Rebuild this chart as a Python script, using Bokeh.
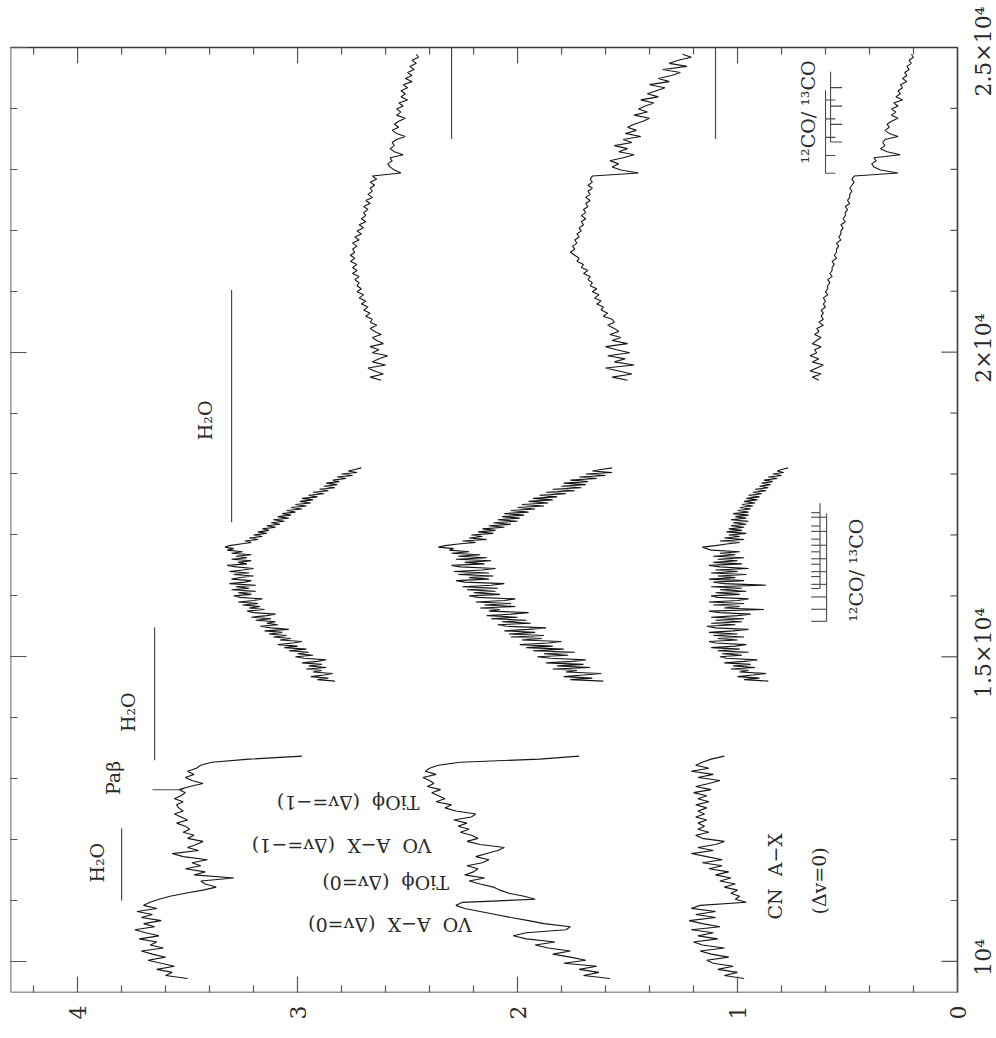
from math import pi

from bokeh.plotting import figure
from bokeh.models import Range1d, FixedTicker, Label, ColumnDataSource
from bokeh.core.properties import value
from bokeh.embed import file_html
from bokeh.resources import INLINE

# ---------------------------------------------------------------------------
# Spectra: three objects, each observed in three windows (J, H, K).
# Wavelengths in Angstrom: window start and sampling step.
# ---------------------------------------------------------------------------
J_START, J_STEP = 9720, 50
H_START, H_STEP = 14600, 25
K_START, K_STEP = 19540, 50

OBJ1_J = [3.50, 3.60, 3.57, 3.64, 3.56, 3.62, 3.68, 3.60, 3.66, 3.71,
          3.61, 3.67, 3.64, 3.72, 3.63, 3.69, 3.74, 3.65, 3.70, 3.62,
          3.71, 3.66, 3.73, 3.64, 3.70, 3.67, 3.63, 3.58, 3.51, 3.43,
          3.37, 3.42, 3.44, 3.29, 3.47, 3.42, 3.51, 3.44, 3.48, 3.41,
          3.52, 3.57, 3.45, 3.50, 3.46, 3.43, 3.50, 3.47, 3.52, 3.49,
          3.51, 3.55, 3.50, 3.53, 3.56, 3.52, 3.54, 3.55, 3.52, 3.56,
          3.53, 3.51, 3.54, 3.49, 3.43, 3.48, 3.51, 3.47, 3.50, 3.46,
          3.44, 3.39, 3.22, 2.98]
OBJ1_H = [2.83, 2.91, 2.86, 2.94, 2.88, 2.84, 2.93, 2.89, 2.96, 2.87,
          2.95, 2.89, 2.98, 2.91, 2.87, 2.97, 3.01, 2.93, 3.00, 2.95,
          3.04, 2.96, 3.06, 3.00, 3.09, 3.02, 2.98, 3.08, 3.03, 3.11,
          3.05, 3.13, 3.07, 3.15, 3.04, 3.12, 3.17, 3.09, 3.14, 3.10,
          3.19, 3.12, 3.21, 3.14, 3.10, 3.20, 3.23, 3.15, 3.22, 3.17,
          3.25, 3.18, 3.27, 3.20, 3.16, 3.26, 3.29, 3.21, 3.27, 3.19,
          3.30, 3.22, 3.28, 3.19, 3.31, 3.24, 3.21, 3.30, 3.26, 3.20,
          3.29, 3.22, 3.31, 3.25, 3.20, 3.28, 3.32, 3.23, 3.27, 3.21,
          3.30, 3.23, 3.28, 3.21, 3.30, 3.25, 3.32, 3.29, 3.33, 3.31,
          3.26, 3.21, 3.24, 3.18, 3.22, 3.16, 3.20, 3.14, 3.18, 3.13,
          3.16, 3.10, 3.14, 3.08, 3.12, 3.06, 3.11, 3.04, 3.09, 3.03,
          3.07, 3.01, 3.05, 2.98, 3.03, 2.96, 3.01, 2.94, 2.99, 2.93,
          2.98, 2.91, 2.95, 2.88, 2.93, 2.86, 2.90, 2.83, 2.88, 2.82,
          2.87, 2.81, 2.84, 2.78, 2.82, 2.75, 2.80, 2.73, 2.77, 2.74,
          2.71]
OBJ1_K = [2.62, 2.67, 2.61, 2.65, 2.68, 2.60, 2.66, 2.63, 2.59, 2.66,
          2.63, 2.67, 2.61, 2.64, 2.66, 2.62, 2.65, 2.67, 2.64, 2.67,
          2.66, 2.69, 2.67, 2.70, 2.68, 2.71, 2.69, 2.72, 2.70, 2.73,
          2.71, 2.73, 2.72, 2.74, 2.72, 2.75, 2.73, 2.75, 2.73, 2.76,
          2.74, 2.76, 2.74, 2.75, 2.73, 2.75, 2.72, 2.74, 2.71, 2.73,
          2.70, 2.72, 2.69, 2.71, 2.69, 2.70, 2.68, 2.70, 2.67, 2.69,
          2.66, 2.68, 2.66, 2.67, 2.65, 2.67, 2.64, 2.66, 2.53, 2.56,
          2.58, 2.59, 2.57, 2.58, 2.52, 2.56, 2.58, 2.56, 2.57, 2.55,
          2.51, 2.55, 2.57, 2.54, 2.56, 2.54, 2.51, 2.55, 2.53, 2.55,
          2.52, 2.54, 2.50, 2.53, 2.51, 2.53, 2.50, 2.52, 2.48, 2.51,
          2.48, 2.50, 2.47, 2.49, 2.46, 2.48, 2.45, 2.46]

OBJ2_J = [1.58, 1.70, 1.63, 1.72, 1.64, 1.79, 1.69, 1.76, 1.84, 1.76,
          1.86, 1.92, 1.83, 1.96, 2.02, 1.96, 1.78, 1.76, 1.88, 1.95,
          2.03, 2.10, 2.17, 2.24, 2.28, 2.25, 1.92, 1.97, 2.04, 2.08,
          2.11, 2.17, 2.22, 2.15, 2.24, 2.20, 2.18, 2.23, 2.16, 2.13,
          2.19, 2.14, 2.09, 2.06, 2.17, 2.23, 2.18, 2.21, 2.26, 2.22,
          2.27, 2.23, 2.29, 2.21, 2.19, 2.28, 2.33, 2.30, 2.37, 2.33,
          2.36, 2.39, 2.35, 2.41, 2.38, 2.40, 2.43, 2.37, 2.42, 2.40,
          2.36, 2.26, 1.90, 1.72]
OBJ2_H = [1.61, 1.76, 1.66, 1.79, 1.70, 1.62, 1.78, 1.73, 1.84, 1.67,
          1.82, 1.70, 1.87, 1.75, 1.69, 1.85, 1.91, 1.77, 1.88, 1.74,
          1.93, 1.79, 1.96, 1.84, 1.99, 1.86, 1.80, 1.98, 1.89, 2.03,
          1.88, 2.04, 1.92, 2.06, 1.95, 1.87, 2.05, 2.09, 1.94, 2.07,
          1.96, 2.12, 2.00, 2.14, 2.03, 1.95, 2.13, 2.08, 2.17, 2.01,
          2.15, 2.03, 2.19, 2.06, 2.01, 2.18, 2.22, 2.08, 2.20, 2.10,
          2.23, 2.09, 2.25, 2.12, 2.06, 2.24, 2.28, 2.13, 2.22, 2.11,
          2.27, 2.13, 2.29, 2.16, 2.10, 2.26, 2.30, 2.15, 2.24, 2.12,
          2.28, 2.14, 2.27, 2.17, 2.30, 2.22, 2.31, 2.29, 2.36, 2.33,
          2.27, 2.19, 2.25, 2.14, 2.22, 2.16, 2.21, 2.11, 2.18, 2.10,
          2.16, 2.06, 2.13, 2.03, 2.11, 2.00, 2.09, 1.99, 2.07, 1.97,
          2.06, 1.95, 2.03, 1.92, 2.00, 1.88, 1.98, 1.86, 1.95, 1.84,
          1.93, 1.82, 1.90, 1.78, 1.87, 1.74, 1.84, 1.71, 1.80, 1.69,
          1.79, 1.68, 1.76, 1.64, 1.72, 1.60, 1.69, 1.57, 1.66, 1.62,
          1.57]
OBJ2_K = [1.50, 1.57, 1.48, 1.54, 1.60, 1.47, 1.56, 1.51, 1.59, 1.49,
          1.55, 1.60, 1.50, 1.57, 1.53, 1.58, 1.54, 1.56, 1.59, 1.56,
          1.57, 1.61, 1.59, 1.62, 1.61, 1.64, 1.62, 1.65, 1.63, 1.66,
          1.64, 1.67, 1.66, 1.68, 1.67, 1.70, 1.68, 1.71, 1.70, 1.73,
          1.72, 1.74, 1.76, 1.74, 1.75, 1.73, 1.74, 1.72, 1.73, 1.71,
          1.72, 1.70, 1.71, 1.69, 1.71, 1.69, 1.70, 1.68, 1.69, 1.67,
          1.69, 1.67, 1.68, 1.66, 1.68, 1.66, 1.67, 1.66, 1.45, 1.53,
          1.57, 1.54, 1.58, 1.52, 1.47, 1.54, 1.50, 1.56, 1.48, 1.52,
          1.44, 1.51, 1.46, 1.50, 1.47, 1.43, 1.40, 1.47, 1.41, 1.45,
          1.42, 1.38, 1.44, 1.36, 1.41, 1.37, 1.33, 1.40, 1.31, 1.36,
          1.30, 1.26, 1.34, 1.23, 1.31, 1.27, 1.21, 1.25]

OBJ3_J = [0.97, 1.06, 1.00, 1.09, 1.02, 1.11, 1.14, 1.04, 1.12, 1.17,
          1.06, 1.16, 1.20, 1.09, 1.18, 1.11, 1.21, 1.08, 1.16, 1.22,
          1.10, 1.19, 1.10, 1.21, 1.17, 0.96, 1.01, 0.99, 1.03, 1.00,
          1.06, 1.01, 1.08, 1.03, 1.10, 1.04, 1.13, 1.07, 1.16, 1.07,
          1.14, 1.21, 1.11, 1.18, 1.10, 1.06, 1.16, 1.19, 1.13, 1.18,
          1.15, 1.18, 1.14, 1.19, 1.15, 1.18, 1.14, 1.19, 1.13, 1.18,
          1.14, 1.20, 1.12, 1.19, 1.13, 1.08, 1.18, 1.11, 1.21, 1.13,
          1.19, 1.16, 1.12, 1.06]
OBJ3_H = [0.86, 0.97, 0.90, 1.00, 0.93, 0.87, 0.99, 0.95, 1.03, 0.92,
          1.02, 0.94, 1.06, 0.97, 0.91, 1.05, 1.08, 0.98, 1.07, 0.95,
          1.09, 0.99, 1.12, 1.01, 0.96, 1.10, 1.13, 1.00, 1.09, 0.97,
          1.11, 1.00, 1.13, 1.02, 0.95, 1.10, 1.14, 1.01, 1.12, 0.98,
          1.10, 0.97, 1.12, 1.00, 0.94, 1.08, 1.13, 0.88, 1.06, 0.99,
          1.11, 0.97, 1.13, 1.00, 0.95, 1.09, 1.12, 0.99, 1.10, 0.96,
          1.08, 0.98, 1.12, 0.87, 1.06, 1.11, 0.97, 1.13, 1.01, 1.09,
          0.96, 1.12, 1.00, 1.10, 0.95, 1.08, 1.13, 0.98, 1.11, 1.00,
          1.09, 0.97, 1.11, 1.01, 1.08, 0.99, 1.12, 1.14, 1.16, 1.10,
          1.05, 0.99, 1.08, 0.97, 1.06, 0.99, 1.04, 0.96, 1.05, 0.98,
          1.04, 0.97, 1.03, 0.96, 1.02, 0.95, 1.03, 0.96, 1.01, 0.95,
          1.02, 0.95, 1.00, 0.94, 0.99, 0.93, 0.98, 0.92, 0.97, 0.91,
          0.96, 0.90, 0.95, 0.89, 0.93, 0.87, 0.92, 0.86, 0.90, 0.85,
          0.89, 0.84, 0.88, 0.82, 0.86, 0.80, 0.84, 0.79, 0.82, 0.80,
          0.77]
OBJ3_K = [0.63, 0.66, 0.62, 0.67, 0.64, 0.61, 0.66, 0.63, 0.67, 0.64,
          0.65, 0.62, 0.66, 0.64, 0.62, 0.65, 0.63, 0.64, 0.61, 0.63,
          0.61, 0.62, 0.61, 0.62, 0.60, 0.61, 0.60, 0.61, 0.59, 0.60,
          0.59, 0.59, 0.58, 0.59, 0.57, 0.58, 0.57, 0.57, 0.56, 0.57,
          0.55, 0.56, 0.55, 0.55, 0.54, 0.55, 0.53, 0.54, 0.53, 0.53,
          0.52, 0.53, 0.51, 0.52, 0.51, 0.51, 0.50, 0.51, 0.49, 0.50,
          0.49, 0.49, 0.48, 0.49, 0.48, 0.47, 0.48, 0.47, 0.27, 0.35,
          0.38, 0.39, 0.37, 0.38, 0.26, 0.32, 0.35, 0.33, 0.34, 0.33,
          0.27, 0.31, 0.33, 0.31, 0.32, 0.30, 0.27, 0.30, 0.28, 0.30,
          0.27, 0.29, 0.25, 0.28, 0.26, 0.27, 0.25, 0.26, 0.23, 0.25,
          0.23, 0.24, 0.22, 0.23, 0.21, 0.22, 0.20, 0.21]

# Absorption-band bars: flux level, wavelength start, wavelength end
H2O_BAR_FLUX = [3.80, 3.65, 3.30]
H2O_BAR_START = [11002, 13300, 17209]
H2O_BAR_END = [12184, 15480, 21018]
RED_BAR_FLUX = [2.30, 1.10]
RED_BAR_START = [23497, 23497]
RED_BAR_END = [25000, 25000]

# Paschen beta marker
PAB_WAVE = 12818
PAB_FLUX = [3.66, 3.52]

# CO band heads (Angstrom)
CO12_K = [22935, 23227, 23525, 23829, 24139]
CO13_K = [23448, 23739, 24037, 24341]
CO12_H = [15582, 15780, 15982, 16189, 16397, 16609, 16831, 17058, 17290]
CO13_H = [16121, 16317, 16519, 16723, 16931, 17146, 17365]

# Axis ticks
FLUX_MAJOR = [0, 1, 2, 3, 4]
FLUX_MINOR = [0.2, 0.4, 0.6, 0.8, 1.2, 1.4, 1.6, 1.8, 2.2, 2.4, 2.6, 2.8,
              3.2, 3.4, 3.6, 3.8, 4.2]
WAVE_MAJOR = [10000, 15000, 20000, 25000]
WAVE_MINOR = [11000, 12000, 13000, 14000, 16000, 17000, 18000, 19000,
              21000, 22000, 23000, 24000]
WAVE_TICK_LABELS = ["10\u2074", "1.5\u00d710\u2074", "2\u00d710\u2074", "2.5\u00d710\u2074"]

# ---------------------------------------------------------------------------
SERIF = "DejaVu Serif"
INK = "#161616"
MARK = "#4a4a4a"
TXT = "#2a2a2a"
FRAME = "#3a3a3a"
TICK = "#555555"

W, H = 996, 1038
PAD_L, PAD_R, PAD_T, PAD_B = 10, 39, 47, 46   # box position on the page (px)
BOX_F = (4.305, 0.0)                          # flux at left / right edge of the box
BOX_W = (9490, 25000)                         # wavelength at bottom / top edge

px_per_flux = (W - PAD_L - PAD_R) / (BOX_F[0] - BOX_F[1])
px_per_wave = (H - PAD_T - PAD_B) / (BOX_W[1] - BOX_W[0])
# the plotting frame also covers the strip right of and above the box,
# where the wavelength numbers sit
x_end = BOX_F[1] - PAD_R / px_per_flux
y_end = BOX_W[1] + PAD_T / px_per_wave

p = figure(width=W, height=H,
           x_range=Range1d(BOX_F[0], x_end), y_range=Range1d(BOX_W[0], y_end),
           x_axis_location="below", y_axis_location="left",
           output_backend="svg", toolbar_location=None,
           min_border_left=PAD_L, min_border_right=0,
           min_border_top=0, min_border_bottom=PAD_B)
p.background_fill_color = "white"
p.border_fill_color = "white"
p.outline_line_color = None
p.xgrid.visible = False
p.ygrid.visible = False

bottom, left = p.below[0], p.left[0]
bottom.ticker = FixedTicker(ticks=FLUX_MAJOR, minor_ticks=FLUX_MINOR)
left.ticker = FixedTicker(ticks=WAVE_MAJOR, minor_ticks=WAVE_MINOR)
for ax in (bottom, left):
    ax.axis_line_color = None
    ax.major_tick_in = 16
    ax.major_tick_out = 0
    ax.minor_tick_in = 7
    ax.minor_tick_out = 0
    ax.major_tick_line_color = TICK
    ax.minor_tick_line_color = TICK
    ax.major_tick_line_width = 1.2
    ax.minor_tick_line_width = 1.2

bottom.major_label_text_font = SERIF
bottom.major_label_text_font_size = "22px"
bottom.major_label_text_color = TXT
bottom.major_label_orientation = pi / 2
bottom.major_label_standoff = 13

left.major_label_text_color = None
left.major_label_text_font_size = "1px"
left.major_label_standoff = 0

# Box edges
p.line(x=[BOX_F[0], BOX_F[1], BOX_F[1], BOX_F[0], BOX_F[0]],
       y=[BOX_W[0], BOX_W[0], BOX_W[1], BOX_W[1], BOX_W[0]],
       line_color=FRAME, line_width=1.6)

# Inward ticks on the top edge (flux) and the right edge (wavelength)
maj_w, min_w = 16 / px_per_wave, 7 / px_per_wave
maj_f, min_f = 16 / px_per_flux, 7 / px_per_flux
top_major = [f for f in FLUX_MAJOR if f > BOX_F[1]]
p.segment(x0=top_major, y0=[BOX_W[1]] * len(top_major),
          x1=top_major, y1=[BOX_W[1] - maj_w] * len(top_major),
          line_color=TICK, line_width=1.2)
p.segment(x0=FLUX_MINOR, y0=[BOX_W[1]] * len(FLUX_MINOR),
          x1=FLUX_MINOR, y1=[BOX_W[1] - min_w] * len(FLUX_MINOR),
          line_color=TICK, line_width=1.2)
right_major = [w for w in WAVE_MAJOR if w < BOX_W[1]]
p.segment(x0=[BOX_F[1]] * len(right_major), y0=right_major,
          x1=[BOX_F[1] + maj_f] * len(right_major), y1=right_major,
          line_color=TICK, line_width=1.2)
p.segment(x0=[BOX_F[1]] * len(WAVE_MINOR), y0=WAVE_MINOR,
          x1=[BOX_F[1] + min_f] * len(WAVE_MINOR), y1=WAVE_MINOR,
          line_color=TICK, line_width=1.2)

# Wavelength numbers beside the right edge, reading upward; the topmost one
# is nudged down so it stays on the page
wave_lab = ColumnDataSource(dict(
    x=[BOX_F[1] - 26 / px_per_flux] * len(WAVE_MAJOR),
    y=WAVE_MAJOR,
    text=WAVE_TICK_LABELS,
    dy=[-4 if w < BOX_W[1] else 4 for w in WAVE_MAJOR],
))
p.text(x="x", y="y", text="text", y_offset="dy", source=wave_lab, angle=pi / 2,
       text_align="center", text_baseline="middle",
       text_font=value(SERIF), text_font_size="22px", text_color=TXT)


def waves(start, step, n):
    return [start + step * i for i in range(n)]


WINDOWS = ((J_START, J_STEP), (H_START, H_STEP), (K_START, K_STEP))
for obj in ((OBJ1_J, OBJ1_H, OBJ1_K), (OBJ2_J, OBJ2_H, OBJ2_K), (OBJ3_J, OBJ3_H, OBJ3_K)):
    for (start, step), flux in zip(WINDOWS, obj):
        p.line(x=flux, y=waves(start, step, len(flux)), line_color=INK, line_width=1.1)

# Band bars
p.segment(x0=H2O_BAR_FLUX, y0=H2O_BAR_START, x1=H2O_BAR_FLUX, y1=H2O_BAR_END,
          line_color=MARK, line_width=1.2)
p.segment(x0=RED_BAR_FLUX, y0=RED_BAR_START, x1=RED_BAR_FLUX, y1=RED_BAR_END,
          line_color=MARK, line_width=1.2)
p.line(x=PAB_FLUX, y=[PAB_WAVE, PAB_WAVE], line_color=MARK, line_width=1.2)


def co_ladder(heads, base, tip, top_wave):
    """Rung line at flux `base` with a tick at each band head."""
    p.line(x=[base, base], y=[heads[0], top_wave], line_color=MARK, line_width=1.1)
    p.segment(x0=[base] * len(heads), y0=heads, x1=[tip] * len(heads), y1=heads,
              line_color=MARK, line_width=1.1)


co_ladder(CO12_K, 0.600, 0.555, 24300)
co_ladder(CO13_K, 0.577, 0.524, 24600)
co_ladder(CO12_H, 0.595, 0.665, 17350)
co_ladder(CO13_H, 0.625, 0.665, 17520)


def note(text, f, w, angle, align="center", size="19px"):
    p.add_layout(Label(x=f, y=w, text=text, angle=angle, text_align=align,
                       text_baseline="middle", text_font=SERIF,
                       text_font_size=size, text_color=TXT))


NB = "\u00a0"
note("H\u2082O", 3.91, 11620, pi / 2)
note("H\u2082O", 3.77, 14090, pi / 2)
note("H\u2082O", 3.42, 18880, pi / 2)
note("Pa\u03b2", 3.84, 12730, pi / 2, align="left")
note(f"VO{NB}{NB}A\u2212X{NB}{NB}(\u0394v=0)", 2.58, 10591, pi)
note(f"TiO\u03d5{NB}{NB}(\u0394v=0)", 2.60, 11281, pi)
note(f"VO{NB}{NB}A\u2212X{NB}{NB}(\u0394v=\u22121)", 2.80, 11888, pi)
note(f"TiO\u03d5{NB}{NB}(\u0394v=\u22121)", 2.77, 12594, pi)
note(f"CN{NB}{NB}A\u2212X", 0.83, 11396, pi / 2)
note("(\u0394v=0)", 0.63, 11322, pi / 2)
note(f"\u00b9\u00b2CO/{NB}\u00b9\u00b3CO", 0.68, 23941, pi / 2)
note(f"\u00b9\u00b2CO/{NB}\u00b9\u00b3CO", 0.46, 16420, pi / 2)

open("out.html", "w").write(file_html(p, INLINE))
